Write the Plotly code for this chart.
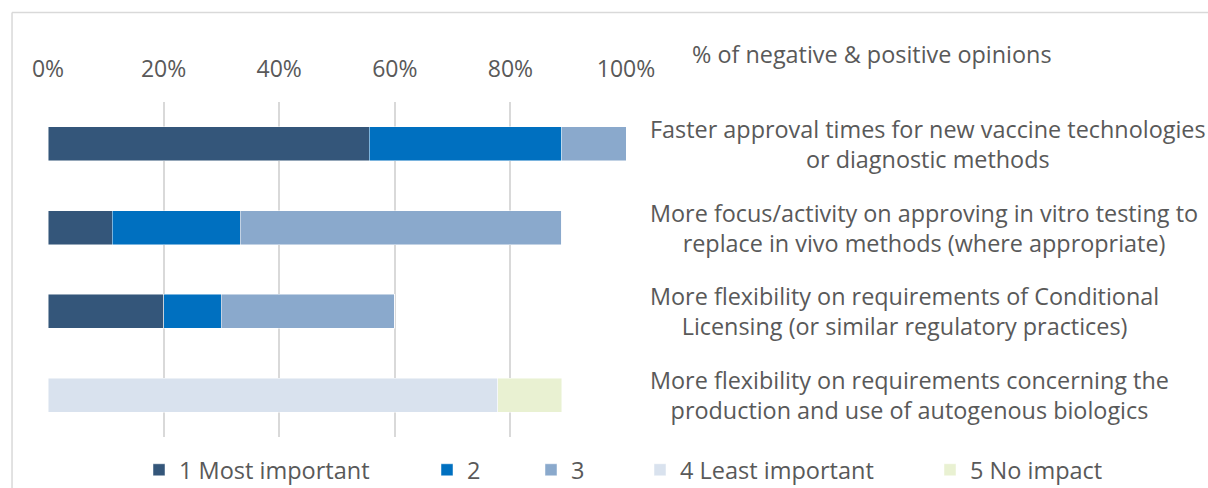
import plotly.graph_objects as go

# ---- data ----
categories = [
    "Faster approval times for new vaccine technologies<br>or diagnostic methods",
    "More focus/activity on approving in vitro testing to<br>replace in vivo methods (where appropriate)",
    "More flexibility on requirements of Conditional<br>Licensing (or similar regulatory practices)",
    "More flexibility on requirements concerning the<br>production and use of autogenous biologics",
]
series_names = ["1 Most important", "2", "3", "4 Least important", "5 No impact"]
s1 = [0.556, 0.111, 0.20, 0.0]
s2 = [0.333, 0.222, 0.10, 0.0]
s3 = [0.111, 0.556, 0.30, 0.0]
s4 = [0.0, 0.0, 0.0, 0.778]
s5 = [0.0, 0.0, 0.0, 0.111]
series_values = [s1, s2, s3, s4, s5]
colors = ["#34567a", "#0070c0", "#8aa9cc", "#d9e2ee", "#e9f1d2"]
axis_title = "% of negative & positive opinions"

W, H = 1208, 488
L, R, T, B = 47.5, 626, 102, 437
FONT = "Open Sans"
FS = 23.4
GREY = "#595959"

def px_x(px):
    return (px - L) / (R - L)

def px_y(py):
    return (B - py) / (B - T)

fig = go.Figure()
legend_x = [156, 444, 548, 657, 947]
for i, (name, vals, col) in enumerate(zip(series_names, series_values, colors)):
    lg = "legend" if i == 0 else f"legend{i+1}"
    fig.add_trace(go.Bar(
        y=categories, x=vals, name=name, orientation="h",
        marker=dict(color=col, line=dict(color="rgba(255,255,255,0.6)", width=0.8)),
        legend=lg,
    ))

layout_legends = {}
for i, lx in enumerate(legend_x):
    key = "legend" if i == 0 else f"legend{i+1}"
    layout_legends[key] = dict(
        x=(lx - 17) / W, y=1 - 470 / H, xref="container", yref="container",
        xanchor="left", yanchor="middle", orientation="h", itemwidth=30,
        font=dict(family=FONT, size=23.5, color=GREY), bgcolor="rgba(0,0,0,0)",
        itemclick=False,
    )

fig.update_layout(
    width=W, height=H,
    margin=dict(l=L, r=W - R, t=T, b=H - B, pad=0),
    barmode="stack", bargap=0.595,
    plot_bgcolor="white", paper_bgcolor="white",
    font=dict(family=FONT, size=FS, color=GREY),
    showlegend=True,
    **layout_legends,
)
fig.update_xaxes(
    range=[0, 1], tickvals=[0, 0.2, 0.4, 0.6, 0.8, 1.0], tickformat=".0%",
    side="top", showgrid=True, gridcolor="#d9d9d9", gridwidth=1.5,
    zeroline=False, showline=False, ticks="", ticklabelstandoff=19,
    tickfont=dict(family=FONT, size=23, color=GREY), fixedrange=True,
)
fig.update_yaxes(
    categoryorder="array", categoryarray=categories, autorange="reversed",
    showticklabels=False, showgrid=False, zeroline=False, showline=False, fixedrange=True,
)

for c in categories:
    fig.add_annotation(
        x=px_x(648), xref="paper", y=c, yref="y", text=c, showarrow=False,
        xanchor="left", yanchor="middle", align="center",
        font=dict(family=FONT, size=FS, color=GREY),
    )
fig.add_annotation(
    x=px_x(690), xref="paper", y=px_y(54), yref="paper", text=axis_title,
    showarrow=False, xanchor="left", yanchor="middle",
    font=dict(family=FONT, size=23.4, color=GREY),
)

# outer chart frame
fig.add_shape(type="line", xref="paper", yref="paper", x0=px_x(11.5), x1=px_x(1215),
              y0=px_y(12.5), y1=px_y(12.5), line=dict(color="#d9d9d9", width=1.5), layer="below")
fig.add_shape(type="line", xref="paper", yref="paper", x0=px_x(11.5), x1=px_x(11.5),
              y0=px_y(12.5), y1=px_y(500), line=dict(color="#d9d9d9", width=1.5), layer="below")

fig.write_html("out.html", config={"displayModeBar": False},
               post_script="document.body.style.margin='0';")
